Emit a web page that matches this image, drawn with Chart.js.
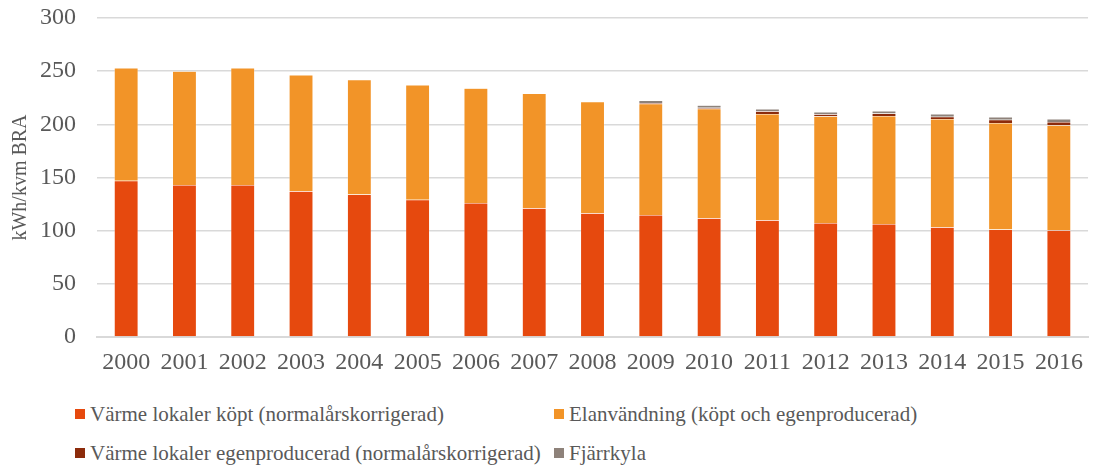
<!DOCTYPE html>
<html>
<head>
<meta charset="utf-8">
<script src="https://cdn.jsdelivr.net/npm/chart.js@4.4.1/dist/chart.umd.min.js"></script>
<style>
    body { margin: 0; background: #fff; overflow: hidden; }
    #wrap { position: relative; width: 1094px; height: 465px; }
    #chartBox { position: absolute; left: 0; top: 0; width: 1094px; height: 385px; }
    .legend-item {
        position: absolute;
        font-family: "Liberation Serif", "DejaVu Serif", serif;
        font-size: 21px;
        color: #595959;
        white-space: nowrap;
        line-height: 24px;
    }
    .legend-item span.box {
        display: inline-block;
        width: 10px;
        height: 10px;
        margin-right: 5px;
        vertical-align: 2px;
    }
</style>
</head>
<body>
<div id="wrap">
    <div id="chartBox"><canvas id="energyChart"></canvas></div>
    <div id="legend"></div>
</div>
<script>
const years = ["2000", "2001", "2002", "2003", "2004", "2005", "2006", "2007", "2008",
    "2009", "2010", "2011", "2012", "2013", "2014", "2015", "2016"];

// kWh/kvm BRA
const varmeKopt = [147, 143, 143, 137, 134, 129, 126, 121, 116.3, 114.8, 111.6, 109.7, 107.2, 106.3, 103.1, 101.2, 100.3];
const elanvandning = [106, 107, 110, 109.5, 108, 108, 108, 108, 105, 104.6, 103, 100, 100.4, 101.6, 101.9, 100.1, 98.9];
const varmeEgen = [0, 0, 0, 0, 0, 0, 0, 0, 0, 0.7, 0.9, 2.5, 1.9, 2.2, 2.2, 3.1, 3.1];
const fjarrkyla = [0, 0, 0, 0, 0, 0, 0, 0, 0, 2.2, 2.5, 2.2, 2.2, 2.5, 2.5, 2.5, 2.8];

const yTicks = [0, 50, 100, 150, 200, 250, 300];

const seriesNames = [
    "Värme lokaler köpt (normalårskorrigerad)",
    "Elanvändning (köpt och egenproducerad)",
    "Värme lokaler egenproducerad (normalårskorrigerad)",
    "Fjärrkyla"
];
const seriesColors = ["#E6490E", "#F29428", "#8C2B0B", "#8E827A"];

const serif = "'Liberation Serif', 'DejaVu Serif', serif";
const textColor = "#595959";

const ctx = document.getElementById("energyChart").getContext("2d");

const datasets = [varmeKopt, elanvandning, varmeEgen, fjarrkyla].map((values, i) => ({
    label: seriesNames[i],
    data: values,
    backgroundColor: seriesColors[i],
    borderColor: "rgba(255,255,255,0.6)",
    borderWidth: 0.5,
    barPercentage: 0.41,
    categoryPercentage: 1
}));

new Chart(ctx, {
    type: "bar",
    data: { labels: years, datasets: datasets },
    options: {
        responsive: true,
        maintainAspectRatio: false,
        animation: false,
        layout: { padding: { top: 18, right: 4, left: 0, bottom: 0 } },
        plugins: {
            legend: { display: false },
            tooltip: { enabled: false }
        },
        scales: {
            x: {
                stacked: true,
                grid: { display: false, drawTicks: false },
                border: { color: "#D9D9D9", width: 2 },
                ticks: {
                    color: textColor,
                    font: { family: serif, size: 24 },
                    padding: 11,
                    maxRotation: 0
                },
                afterFit(scale) { scale.height = 48; }
            },
            y: {
                stacked: true,
                min: 0,
                max: 300,
                afterBuildTicks(scale) { scale.ticks = yTicks.map(v => ({ value: v })); },
                grid: { color: "#D9D9D9", lineWidth: 1.5, drawTicks: false },
                border: { display: false },
                ticks: {
                    color: textColor,
                    font: { family: serif, size: 24 },
                    padding: 21
                },
                title: {
                    display: true,
                    text: "kWh/kvm BRA",
                    color: textColor,
                    font: { family: serif, size: 20 },
                    padding: { top: 9, bottom: 0 }
                },
                afterFit(scale) {
                    scale.width = 97;
                    scale.paddingTop = 0;
                    scale.paddingBottom = 0;
                }
            }
        }
    }
});

// legend laid out in two columns like the original
const legendSpots = [[75, 402], [554, 402], [75, 441], [554, 441]];
const legendEl = document.getElementById("legend");
seriesNames.forEach((name, i) => {
    const item = document.createElement("div");
    item.className = "legend-item";
    item.style.left = legendSpots[i][0] + "px";
    item.style.top = legendSpots[i][1] + "px";
    const box = document.createElement("span");
    box.className = "box";
    box.style.background = seriesColors[i];
    item.appendChild(box);
    item.appendChild(document.createTextNode(name));
    legendEl.appendChild(item);
});
</script>
</body>
</html>
